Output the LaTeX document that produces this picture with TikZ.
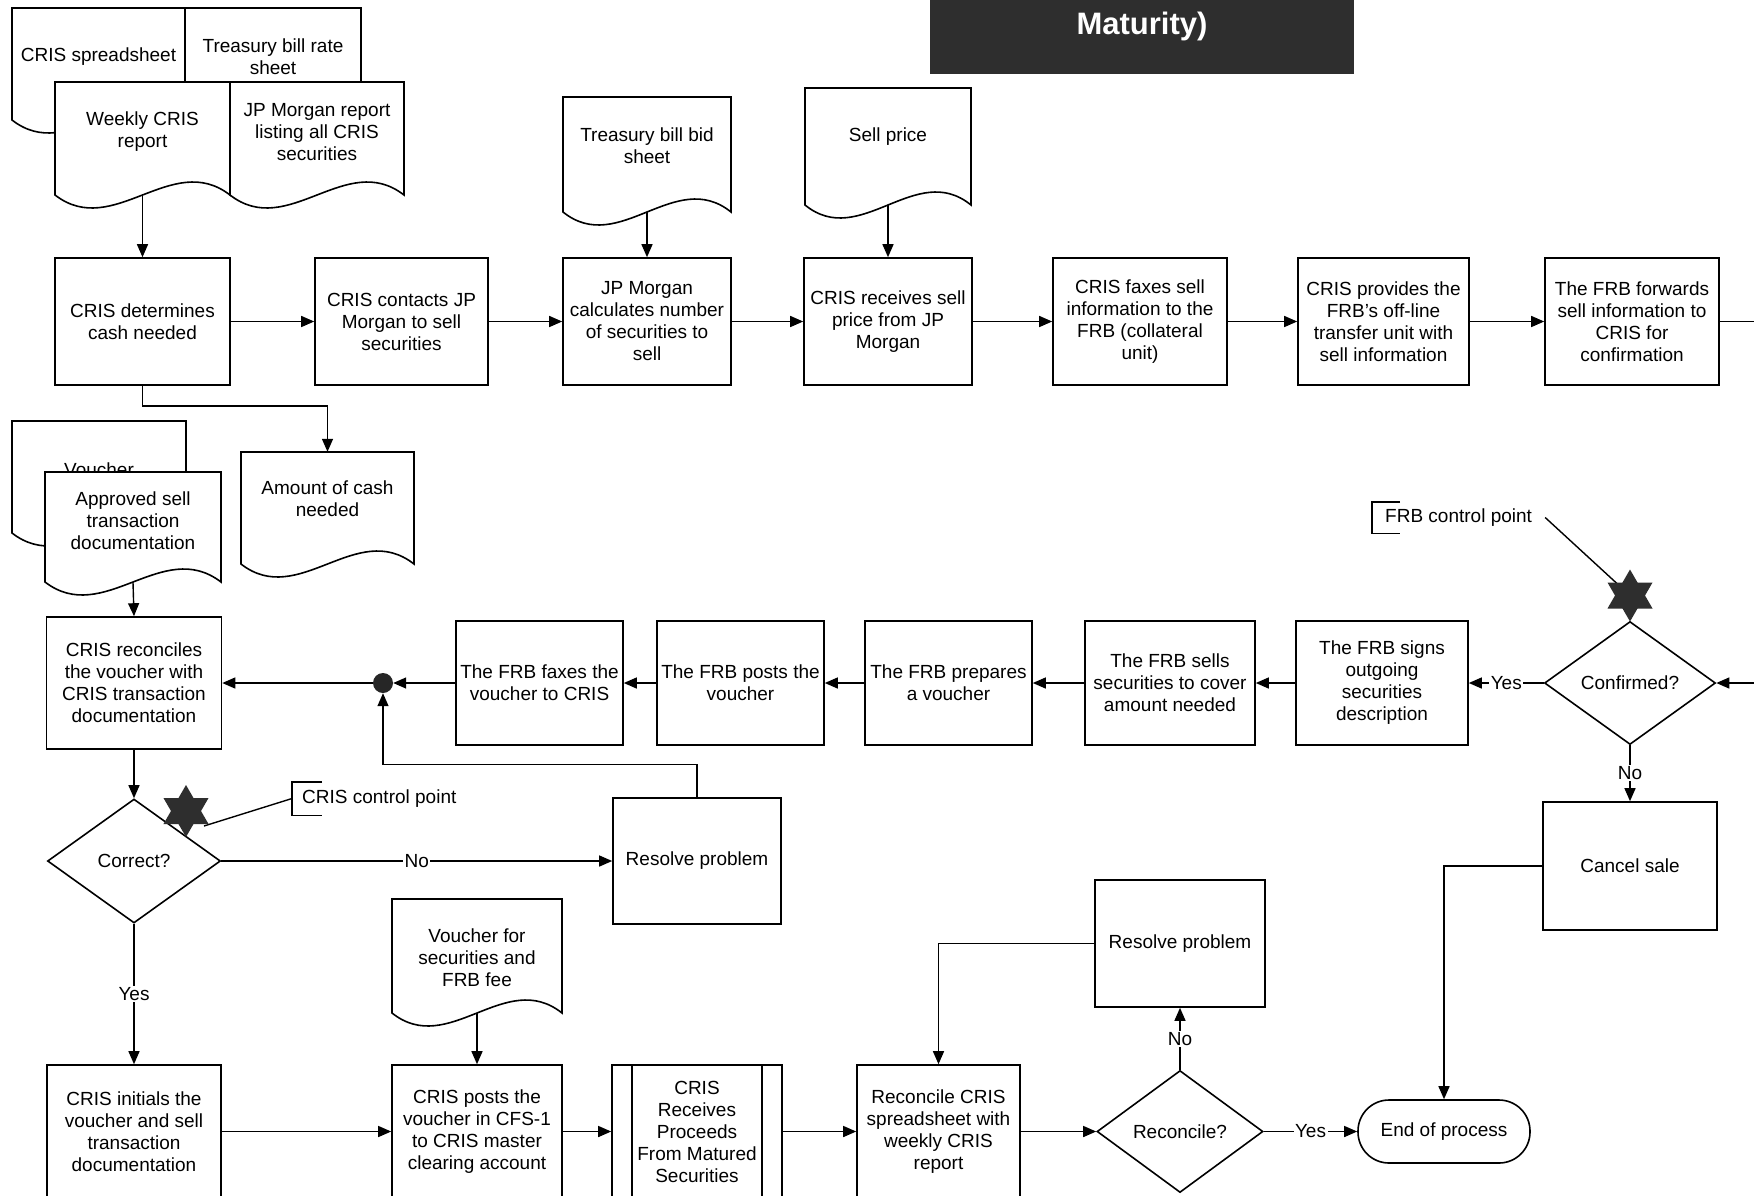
\documentclass[tikz,border=0pt]{standalone}
\usepackage{fontspec}
\setmainfont{Liberation Sans}
\usetikzlibrary{arrows.meta,shapes.geometric}
\newcommand\bodyfont{\fontsize{19}{22}\selectfont}
% document shape: #1 name, #2 L, #3 T, #4 R, #5 B, #6 text y, #7 text
\newcommand\docu[7]{%
  \draw[docline] (#2,#3) -- (#4,#3) -- (#4,#5)
    .. controls ({#2+2*(#4-#2)/3},{#5-45}) and ({#2+(#4-#2)/3},{#5+45}) .. (#2,#5) -- cycle;
  \node[docarea, minimum width={#4-#2}, minimum height={#5-#3}] (#1) at ({(#2+#4)/2},{(#3+#5)/2}) {};
  \node[txt] (#1-t) at ({(#2+#4)/2},#6) {#7};
}
\newcommand\davidstar[3]{%
  \fill[starfill] (#1,#2) +(90:#3) -- +(210:#3) -- +(330:#3) -- cycle;
  \fill[starfill] (#1,#2) +(270:#3) -- +(30:#3) -- +(150:#3) -- cycle;
}
\begin{document}
\begin{tikzpicture}[x=1pt,y=-1pt,
  box/.style={draw,line width=1.6pt,fill=white,align=center,inner sep=1pt,font=\bodyfont},
  decision/.style={diamond,draw,line width=1.6pt,fill=white,align=center,inner sep=0pt,font=\bodyfont},
  docline/.style={draw,line width=1.6pt,fill=white},
  docarea/.style={inner sep=0pt},
  txt/.style={align=center,font=\bodyfont,inner sep=0pt},
  conn/.style={line width=1.4pt,-{Triangle[length=13pt,width=11pt]}},
  plain/.style={line width=1.4pt},
  lbl/.style={fill=white,inner sep=1.5pt,font=\bodyfont},
  starfill/.style={fill=black!82},
  ann/.style={font=\bodyfont,inner ysep=0pt,anchor=west}
]
\fill[white] (0,0) rectangle (1754,1195);
\useasboundingbox (0,0) rectangle (1754,1195);
\clip (0,0) rectangle (1754,1195);

% ---------- title ----------
\node[fill=black!82,minimum width=424,minimum height=84,inner sep=0pt] (title) at (1142,32) {};
\node[text=white,font=\fontsize{31}{34}\selectfont\bfseries] (title-t) at (1142,26) {Maturity)};

% ---------- top-left stacked documents ----------
\docu{crs}{12}{8}{185}{120}{57}{CRIS spreadsheet}
\docu{tbr}{185}{8}{361}{120}{57}{Treasury bill rate\\sheet}
\docu{wcr}{55}{82}{230}{195}{132}{Weekly CRIS\\report}
\docu{jpr}{230}{82}{404}{195}{132}{JP Morgan report\\listing all CRIS\\securities}

% ---------- other documents ----------
\docu{tbs}{563}{97}{731}{212}{146}{Treasury bill bid\\sheet}
\docu{sp}{805}{88}{971}{205}{137}{Sell price}
\docu{amt}{241}{452}{414}{564}{499}{Amount of cash\\needed}
\docu{vch}{12}{421}{186}{533}{470}{Voucher}
\docu{asd}{45}{472}{221}{582}{521}{Approved sell\\transaction\\documentation}
\docu{vfee}{392}{899}{562}{1013}{958}{Voucher for\\securities and\\FRB fee}

% ---------- row 1 ----------
\node[box,minimum width=175,minimum height=127] (b1) at (142.5,321.5) {CRIS determines\\cash needed};
\node[box,minimum width=173,minimum height=127] (b2) at (401.5,321.5) {CRIS contacts JP\\Morgan to sell\\securities};
\node[box,minimum width=168,minimum height=127] (b3) at (647,321.5) {JP Morgan\\calculates number\\of securities to\\sell};
\node[box,minimum width=168,minimum height=127] (b4) at (888,321.5) {CRIS receives sell\\price from JP\\Morgan};
\node[box,minimum width=174,minimum height=127] (b5) at (1140,321.5) {CRIS faxes sell\\information to the\\FRB (collateral\\unit)};
\node[box,minimum width=171,minimum height=127] (b6) at (1383.5,321.5) {CRIS provides the\\FRB's off-line\\transfer unit with\\sell information};
\node[box,minimum width=174,minimum height=127] (b7) at (1632,321.5) {The FRB forwards\\sell information to\\CRIS for\\confirmation};

% ---------- row 2 ----------
\node[box,minimum width=175,minimum height=132] (rec) at (134,683) {CRIS reconciles\\the voucher with\\CRIS transaction\\documentation};
\node[circle,fill=black!85,minimum size=20,inner sep=0pt] (dot) at (383,683) {};
\node[box,minimum width=167,minimum height=124] (fax) at (539.5,683) {The FRB faxes the\\voucher to CRIS};
\node[box,minimum width=167,minimum height=124] (post) at (740.5,683) {The FRB posts the\\voucher};
\node[box,minimum width=167,minimum height=124] (prep) at (948.5,683) {The FRB prepares\\a voucher};
\node[box,minimum width=170,minimum height=124] (sell) at (1170,683) {The FRB sells\\securities to cover\\amount needed};
\node[box,minimum width=172,minimum height=124] (sign) at (1382,683) {The FRB signs\\outgoing\\securities\\description};
\node[decision,minimum width=171,minimum height=123] (conf) at (1630,683) {Confirmed?};
\node[box,minimum width=174,minimum height=128] (cancel) at (1630,866) {Cancel sale};

% ---------- middle ----------
\node[decision,minimum width=173,minimum height=124] (correct) at (134,861) {Correct?};
\node[box,minimum width=168,minimum height=126] (res1) at (697,861) {Resolve problem};

% ---------- bottom row ----------
\node[box,minimum width=174,minimum height=133] (init) at (134,1131.5) {CRIS initials the\\voucher and sell\\transaction\\documentation};
\node[box,minimum width=170,minimum height=133] (posts2) at (477,1131.5) {CRIS posts the\\voucher in CFS-1\\to CRIS master\\clearing account};
\node[box,minimum width=170,minimum height=133] (recv) at (697,1131.5) {CRIS\\Receives\\Proceeds\\From Matured\\Securities};
\draw[line width=1.6pt] ([xshift=21pt]recv.north west) -- ([xshift=21pt]recv.south west);
\draw[line width=1.6pt] ([xshift=-21pt]recv.north east) -- ([xshift=-21pt]recv.south east);
\node[box,minimum width=163,minimum height=133] (recon) at (938.5,1131.5) {Reconcile CRIS\\spreadsheet with\\weekly CRIS\\report};
\node[decision,minimum width=166,minimum height=122] (rq) at (1180,1131.5) {Reconcile?};
\node[box,rounded corners=31pt,minimum width=172,minimum height=63] (end) at (1444,1131.5) {End of process};
\node[box,minimum width=170,minimum height=127] (res2) at (1180,943.5) {Resolve problem};

% ---------- connectors ----------
\draw[conn] (wcr.south) -- (b1.north);
\draw[conn] (tbs.south) -- (b3.north);
\draw[conn] (sp.south) -- (b4.north);
\draw[conn] (b1) -- (b2);
\draw[conn] (b2) -- (b3);
\draw[conn] (b3) -- (b4);
\draw[conn] (b4) -- (b5);
\draw[conn] (b5) -- (b6);
\draw[conn] (b6) -- (b7);
\draw[conn] (b7.east) -- ++(80,0) |- (conf.east);
\draw[conn] (b1.south) -- ++(0,20) -| (amt.north);
\draw[conn] (asd.south) -- (rec.north);

\draw[conn] (conf.west) -- node[lbl]{Yes} (sign.east);
\draw[conn] (conf.south) -- node[lbl]{No} (cancel.north);
\draw[conn] (sign) -- (sell);
\draw[conn] (sell) -- (prep);
\draw[conn] (prep) -- (post);
\draw[conn] (post) -- (fax);
\draw[conn] (fax.west) -- (dot.east);
\draw[conn] (dot.west) -- (rec.east);
\draw[conn] (res1.north) -- ++(0,-33) -| (dot.south);
\draw[conn] (cancel.west) -| (end.north);

\draw[conn] (rec.south) -- (correct.north);
\draw[conn] (correct.east) -- node[lbl]{No} (res1.west);
\draw[conn] (correct.south) -- node[lbl]{Yes} (init.north);

\draw[conn] (init.east) -- (posts2.west);
\draw[conn] (vfee.south) -- (posts2.north);
\draw[conn] (posts2) -- (recv);
\draw[conn] (recv) -- (recon);
\draw[conn] (recon.east) -- (rq.west);
\draw[conn] (rq.east) -- node[lbl]{Yes} (end.west);
\draw[conn] (rq.north) -- node[lbl]{No} (res2.south);
\draw[conn] (res2.west) -| (recon.north);

% ---------- control points ----------
\node[ann,inner xsep=10pt,minimum height=33] (ann1) at (292,798.5) {CRIS control point};
\draw[plain] ([xshift=30pt]ann1.north west) -- (ann1.north west) -- (ann1.south west) -- ([xshift=30pt]ann1.south west);
\coordinate (s1tip) at (204,826);
\draw[plain] (ann1.west) -- (s1tip);
\davidstar{186}{811}{26}

\node[ann,inner xsep=13pt,minimum height=31] (ann2) at (1372,517.5) {FRB control point};
\draw[plain] ([xshift=28pt]ann2.north west) -- (ann2.north west) -- (ann2.south west) -- ([xshift=28pt]ann2.south west);
\coordinate (s2c) at (1630,595.5);
\draw[plain] (ann2.east) -- (s2c);
\davidstar{1630}{595.5}{26}
\end{tikzpicture}
\end{document}
